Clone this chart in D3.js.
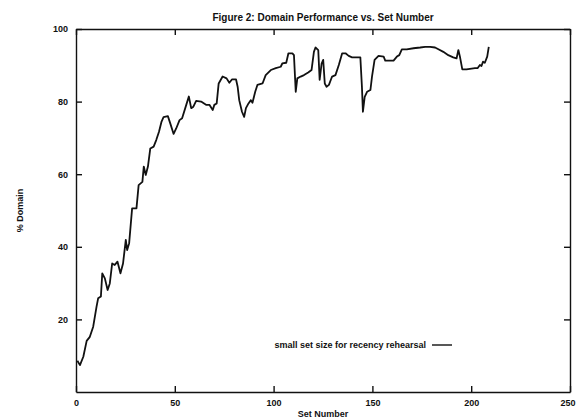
<!DOCTYPE html>
<html>
<head>
<meta charset="utf-8">
<script src="https://cdn.jsdelivr.net/npm/d3@7"></script>
<style>
  body { margin: 0; background: #fff; }
  text { font-family: "Liberation Sans", Arial, sans-serif; font-weight: bold; fill: #111; }
</style>
</head>
<body>
<script>
// values
var setNumber = [0.7, 2, 3.7, 5.4, 7, 8.7, 10.4, 11.2, 12.6, 13.3, 14.6, 16, 17.1, 18.3, 19.6, 21,
    22.5, 23.8, 25.2, 25.9, 26.9, 28.4, 30.6, 31.7, 33.6, 34.3, 35.3, 36.4, 37.6, 39.3, 40.6, 42,
    43.3, 44.3, 46.5, 47.7, 49.4, 50.7, 52.4, 53.7, 55.8, 57.1, 58.3, 59.4, 60.8, 63.3, 65.8, 67.5,
    69.2, 70, 71.2, 72.2, 74.2, 76.2, 77.6, 78.9, 81, 81.8, 82.6, 84, 85.1, 86, 87.3, 88.5,
    89.3, 90.7, 91.8, 94.4, 96, 98.6, 101.1, 103.6, 104.4, 106.4, 107.5, 109.5, 110.3, 111.2, 112, 113.7,
    115.4, 117.5, 119.2, 120.4, 121.2, 122.6, 123.3, 124.3, 125.1, 125.9, 126.8, 128, 129.6, 131.3, 133, 134.7,
    136.4, 138, 139.7, 143.9, 144.7, 145.2, 146.1, 147.3, 149, 149.8, 151.1, 153.1, 155.7, 156.5, 160.7, 162.4,
    163.6, 164.9, 167.4, 170.8, 174.2, 176.7, 179.2, 181.7, 183.4, 185.9, 188.4, 190.9, 192.6, 193.5, 194.3, 195.5,
    197.6, 200.2, 201.9, 203.2, 204.4, 205.2, 206, 206.9, 208.1, 208.9];
var domainPct = [8.6, 7.4, 9.7, 14.1, 15.2, 18, 23.5, 25.8, 26.3, 32.7, 31.3, 28.1, 29.9, 35.4, 35, 35.9,
    32.7, 35.4, 41.9, 39.1, 41, 50.6, 50.6, 57, 57.9, 62.1, 59.8, 62.1, 67.1, 67.6, 69.4, 71.7,
    74.5, 75.7, 76, 74, 71.1, 72.6, 74.9, 75.4, 79.1, 81.4, 78.2, 78.6, 80.2, 80, 79.1, 79.1,
    77.7, 79.1, 79.5, 85, 86.9, 86.4, 85.2, 86.1, 86.1, 84.1, 80.4, 77.2, 75.8, 78.2, 79.5, 80.4,
    79.7, 82.7, 84.6, 85, 87.3, 88.7, 89.2, 89.6, 90.5, 90.7, 93.3, 93.3, 92.8, 82.7, 86.4, 86.9,
    87.3, 88, 88.7, 93.7, 94.9, 94.2, 86, 90.5, 91.5, 85, 84.1, 84.6, 86.9, 87.3, 90.1, 93.3,
    93.3, 92.6, 92.2, 92.2, 84.1, 77.2, 81.3, 82.7, 83.2, 86.9, 91.5, 92.6, 92.4, 91.3, 91.3, 92.4,
    92.8, 94.4, 94.4, 94.7, 94.9, 95.1, 95.1, 94.9, 94.4, 93.7, 92.8, 92.2, 91.9, 94.2, 92.4, 88.9,
    88.9, 89.1, 89.2, 89.2, 90.1, 89.8, 91, 90.7, 92.4, 95.1];
var xTicks = [0, 50, 100, 150, 200, 250];
var yTicks = [20, 40, 60, 80, 100];
var title = "Figure 2: Domain Performance vs. Set Number";
var seriesName = "small set size for recency rehearsal";

var width = 576, height = 420;
var margin = {top: 29, right: 6, bottom: 28, left: 76};

var svg = d3.select("body")
    .append("svg")
    .attr("width", width)
    .attr("height", height);

var x = d3.scaleLinear().domain([0, 250]).range([margin.left, width - margin.right]);
var y = d3.scaleLinear().domain([0, 100]).range([height - margin.bottom, margin.top]);

// axes, ticks pointing into the plot like the original
svg.append("g")
    .attr("transform", "translate(0," + y(0) + ")")
    .call(d3.axisBottom(x).tickValues(xTicks).tickSize(-6).tickSizeOuter(0).tickPadding(8))
    .call(function (g) {
        g.selectAll("text").style("font-size", "9px");
        // last label sits on the page edge, keep it inside
        g.selectAll("text").filter(function (d) { return d === 250; })
            .attr("text-anchor", "end")
            .attr("x", 5);
    });

svg.append("g")
    .attr("transform", "translate(" + x(0) + ",0)")
    .call(d3.axisLeft(y).tickValues(yTicks).tickSize(-6).tickSizeOuter(0).tickPadding(8))
    .call(function (g) {
        g.selectAll("text").style("font-size", "9px");
    });

svg.append("g")
    .attr("transform", "translate(0," + y(100) + ")")
    .call(d3.axisTop(x).tickValues(xTicks).tickSize(-6).tickSizeOuter(0).tickFormat(""));

svg.append("g")
    .attr("transform", "translate(" + x(250) + ",0)")
    .call(d3.axisRight(y).tickValues(yTicks).tickSize(-6).tickSizeOuter(0).tickFormat(""));

svg.selectAll(".domain, .tick line")
    .attr("stroke", "#111")
    .attr("stroke-width", 1.4);

// data line
var points = setNumber.map(function (d, i) { return [d, domainPct[i]]; });

svg.append("path")
    .datum(points)
    .attr("d", d3.line().x(function (d) { return x(d[0]); }).y(function (d) { return y(d[1]); }))
    .attr("fill", "none")
    .attr("stroke", "#111")
    .attr("stroke-width", 1.8)
    .attr("stroke-linejoin", "round");

// title and axis labels
svg.append("text")
    .attr("x", (x(0) + x(250)) / 2)
    .attr("y", 21)
    .attr("text-anchor", "middle")
    .style("font-size", "10px")
    .text(title);

svg.append("text")
    .attr("x", (x(0) + x(250)) / 2)
    .attr("y", 417)
    .attr("text-anchor", "middle")
    .style("font-size", "9px")
    .text("Set Number");

svg.append("text")
    .attr("transform", "translate(23," + (y(0) + y(100)) / 2 + ") rotate(-90)")
    .attr("text-anchor", "middle")
    .style("font-size", "9px")
    .text("% Domain");

// legend
svg.append("text")
    .attr("x", 426)
    .attr("y", 348)
    .attr("text-anchor", "end")
    .style("font-size", "9px")
    .text(seriesName);

svg.append("line")
    .attr("x1", 432)
    .attr("x2", 452)
    .attr("y1", 345)
    .attr("y2", 345)
    .attr("stroke", "#111")
    .attr("stroke-width", 1.4);
</script>
</body>
</html>
